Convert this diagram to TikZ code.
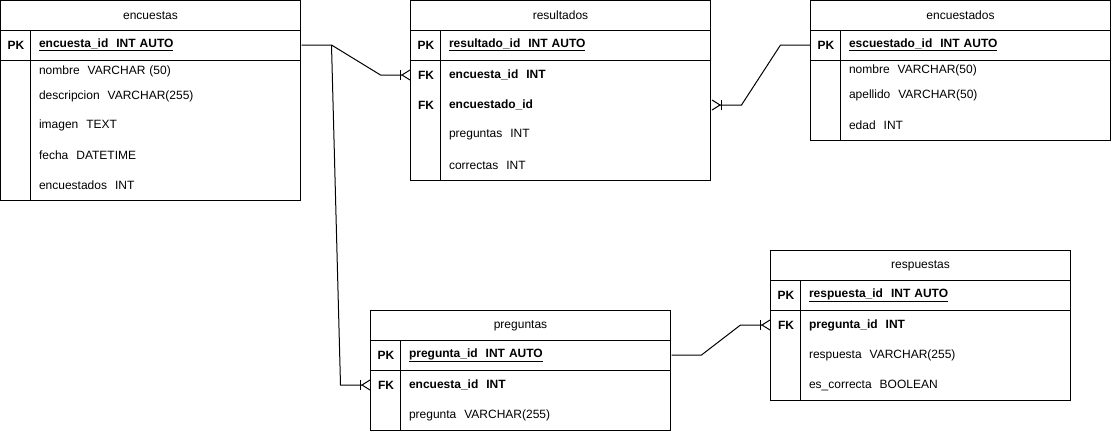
\documentclass[tikz,border=0pt,12pt]{standalone}
\usepackage{fontspec}
\setmainfont{Liberation Sans}
\usetikzlibrary{arrows.meta, positioning}
\tikzset{
  cabecera/.style={
    draw, rectangle, minimum width=300pt, minimum height=30pt,
    inner sep=0pt, outer sep=0pt
  },
  bloque/.style={
    draw, rectangle, minimum width=300pt, inner sep=0pt, outer sep=0pt
  },
  clave/.style={anchor=west, minimum width=30pt, inner sep=0pt, font=\bfseries},
  campo/.style={anchor=west, text width=262pt, inner sep=0pt, align=left},
  pata/.tip={Bar[width=10pt, sep=0pt] Straight Barb[reversed, length=8pt, width=10pt, sep=0pt]},
  relacion/.style={-pata, line width=1pt}
}

\begin{document}
\begin{tikzpicture}[x=1pt, y=-1pt, line width=1pt]
\useasboundingbox (0,0) rectangle (1111,431);

% Tabla encuestas
\node[cabecera, anchor=north west] (encuestas) at (0.5,0.5) {encuestas};
\node[bloque, minimum height=30pt, below=0pt of encuestas] (encuestas-llave) {};
\node[bloque, minimum height=140pt, below=0pt of encuestas-llave] (encuestas-cuerpo) {};
\draw ([xshift=30pt]encuestas-llave.north west) -- ([xshift=30pt]encuestas-cuerpo.south west);
\node[clave] (encuestas-pk-k) at (0.5,45) {PK};
\node[campo, font=\bfseries] (encuestas-pk) at (38.5,45) {\underline{encuesta\_id~~INT AUTO}};
\node[campo] (encuestas-nombre) at (38.5,71) {nombre~~VARCHAR (50)};
\node[campo] (encuestas-descripcion) at (38.5,96) {descripcion~~VARCHAR(255)};
\node[campo] (encuestas-imagen) at (38.5,125) {imagen~~TEXT};
\node[campo] (encuestas-fecha) at (38.5,155) {fecha~~DATETIME};
\node[campo] (encuestas-encuestados) at (38.5,185) {encuestados~~INT};

% Tabla resultados
\node[cabecera, anchor=north west] (resultados) at (410.5,0.5) {resultados};
\node[bloque, minimum height=30pt, below=0pt of resultados] (resultados-llave) {};
\node[bloque, minimum height=120pt, below=0pt of resultados-llave] (resultados-cuerpo) {};
\draw ([xshift=30pt]resultados-llave.north west) -- ([xshift=30pt]resultados-cuerpo.south west);
\node[clave] (resultados-pk-k) at (410.5,45) {PK};
\node[campo, font=\bfseries] (resultados-pk) at (448.5,45) {\underline{resultado\_id~~INT AUTO}};
\node[clave] (resultados-fk1-k) at (410.5,75) {FK};
\node[campo, font=\bfseries] (resultados-fk1) at (448.5,75) {encuesta\_id~~INT};
\node[clave] (resultados-fk2-k) at (410.5,105) {FK};
\node[campo, font=\bfseries] (resultados-fk2) at (448.5,105) {encuestado\_id};
\node[campo] (resultados-preguntas) at (448.5,135) {preguntas~~INT};
\node[campo] (resultados-correctas) at (448.5,165) {correctas~~INT};

% Tabla encuestados
\node[cabecera, anchor=north west] (encuestados) at (810.5,0.5) {encuestados};
\node[bloque, minimum height=30pt, below=0pt of encuestados] (encuestados-llave) {};
\node[bloque, minimum height=80pt, below=0pt of encuestados-llave] (encuestados-cuerpo) {};
\draw ([xshift=30pt]encuestados-llave.north west) -- ([xshift=30pt]encuestados-cuerpo.south west);
\node[clave] (encuestados-pk-k) at (810.5,45) {PK};
\node[campo, font=\bfseries] (encuestados-pk) at (848.5,45) {\underline{escuestado\_id~~INT AUTO}};
\node[campo] (encuestados-nombre) at (848.5,70) {nombre~~VARCHAR(50)};
\node[campo] (encuestados-apellido) at (848.5,95) {apellido~~VARCHAR(50)};
\node[campo] (encuestados-edad) at (848.5,125) {edad~~INT};

% Tabla preguntas
\node[cabecera, anchor=north west] (preguntas) at (370.5,310.5) {preguntas};
\node[bloque, minimum height=30pt, below=0pt of preguntas] (preguntas-llave) {};
\node[bloque, minimum height=60pt, below=0pt of preguntas-llave] (preguntas-cuerpo) {};
\draw ([xshift=30pt]preguntas-llave.north west) -- ([xshift=30pt]preguntas-cuerpo.south west);
\node[clave] (preguntas-pk-k) at (370.5,355) {PK};
\node[campo, font=\bfseries] (preguntas-pk) at (408.5,355) {\underline{pregunta\_id~~INT AUTO}};
\node[clave] (preguntas-fk1-k) at (370.5,385) {FK};
\node[campo, font=\bfseries] (preguntas-fk1) at (408.5,385) {encuesta\_id~~INT};
\node[campo] (preguntas-pregunta) at (408.5,415) {pregunta~~VARCHAR(255)};

% Tabla respuestas
\node[cabecera, anchor=north west] (respuestas) at (770.5,250.5) {respuestas};
\node[bloque, minimum height=30pt, below=0pt of respuestas] (respuestas-llave) {};
\node[bloque, minimum height=90pt, below=0pt of respuestas-llave] (respuestas-cuerpo) {};
\draw ([xshift=30pt]respuestas-llave.north west) -- ([xshift=30pt]respuestas-cuerpo.south west);
\node[clave] (respuestas-pk-k) at (770.5,295) {PK};
\node[campo, font=\bfseries] (respuestas-pk) at (808.5,295) {\underline{respuesta\_id~~INT AUTO}};
\node[clave] (respuestas-fk1-k) at (770.5,325) {FK};
\node[campo, font=\bfseries] (respuestas-fk1) at (808.5,325) {pregunta\_id~~INT};
\node[campo] (respuestas-respuesta) at (808.5,355) {respuesta~~VARCHAR(255)};
\node[campo] (respuestas-correcta) at (808.5,385) {es\_correcta~~BOOLEAN};

% Relaciones
\draw[relacion] (encuestas-pk.east) -- ++(30pt,0) coordinate (desvio)
  -- ([xshift=-30pt]resultados-fk1-k.west) -- (resultados-fk1-k.west);
\draw[relacion] (desvio) -- ([xshift=-30pt]preguntas-fk1-k.west) -- (preguntas-fk1-k.west);
\draw[relacion] (encuestados-pk-k.west) -- ++(-30pt,0)
  -- ([xshift=30pt]resultados-fk2.east) -- (resultados-fk2.east);
\draw[relacion] (preguntas-pk.east) -- ++(30pt,0)
  -- ([xshift=-30pt]respuestas-fk1-k.west) -- (respuestas-fk1-k.west);

\end{tikzpicture}
\end{document}
